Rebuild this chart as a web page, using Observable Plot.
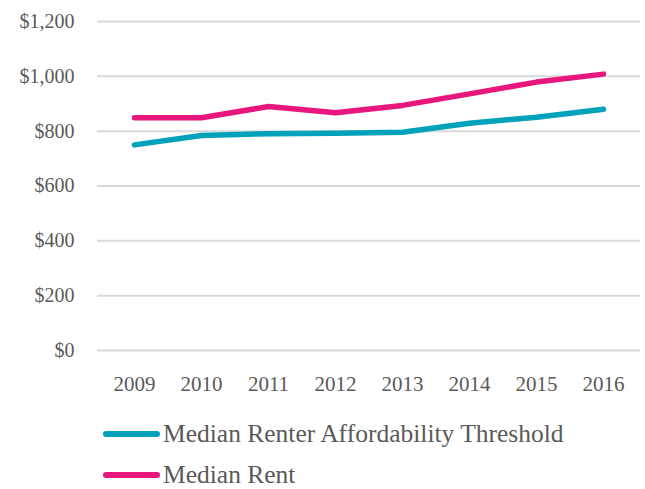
<!DOCTYPE html>
<html>
<head>
<meta charset="utf-8">
<script src="https://cdn.jsdelivr.net/npm/d3@7"></script>
<script src="https://cdn.jsdelivr.net/npm/@observablehq/plot@0.6"></script>
<style>
  body { margin: 0; background: #fff; font-family: "Liberation Serif", serif; overflow: hidden; }
  #legend { position: relative; height: 89px; }
  .item { position: absolute; left: 103px; display: flex; align-items: center; color: #595959; font-size: 25.5px; line-height: 22px; height: 22px; }
  .sw { width: 57px; height: 6px; border-radius: 3px; margin-right: 3px; }
</style>
</head>
<body>
<div id="chart"></div>
<div id="legend"></div>
<script>
const years = ["2009","2010","2011","2012","2013","2014","2015","2016"];
const threshold = [750, 784, 791, 792, 796, 829, 851, 880];
const rent = [849, 849, 890, 867, 894, 936, 979, 1008];
const seriesNames = ["Median Renter Affordability Threshold", "Median Rent"];
const seriesColors = ["#00a2bb", "#e8177d"];
const yTicks = [0, 200, 400, 600, 800, 1000, 1200];

const data = [];
years.forEach((y, i) => data.push({year: y, value: threshold[i], series: seriesNames[0]}));
years.forEach((y, i) => data.push({year: y, value: rent[i], series: seriesNames[1]}));

const chart = Plot.plot({
  width: 645,
  height: 400,
  marginLeft: 97,
  marginRight: 5,
  marginTop: 21,
  marginBottom: 50,
  style: {fontFamily: "Liberation Serif, serif", color: "#595959", background: "#fff"},
  x: {type: "point", domain: years, padding: 0.5, label: null},
  y: {domain: [0, 1200], label: null},
  color: {domain: seriesNames, range: seriesColors},
  marks: [
    Plot.ruleY(yTicks, {stroke: "#d9d9d9", strokeWidth: 2}),
    Plot.axisY({ticks: yTicks, tickSize: 0, tickPadding: 23, fontSize: 20, tickFormat: d => "$" + d3.format(",")(d), fill: "#595959", label: null}),
    Plot.axisX({tickSize: 0, tickPadding: 26, fontSize: 21, fill: "#595959", label: null}),
    Plot.line(data, {x: "year", y: "value", z: "series", stroke: "series", strokeWidth: 5.5, strokeLinecap: "round", strokeLinejoin: "round"})
  ]
});
document.getElementById("chart").appendChild(chart);

const legend = document.getElementById("legend");
seriesNames.forEach((name, i) => {
  const item = document.createElement("div");
  item.className = "item";
  item.style.top = (i === 0 ? 23 : 63.5) + "px";
  item.innerHTML = `<span class="sw" style="background:${seriesColors[i]}"></span><span>${name}</span>`;
  legend.appendChild(item);
});
</script>
</body>
</html>
